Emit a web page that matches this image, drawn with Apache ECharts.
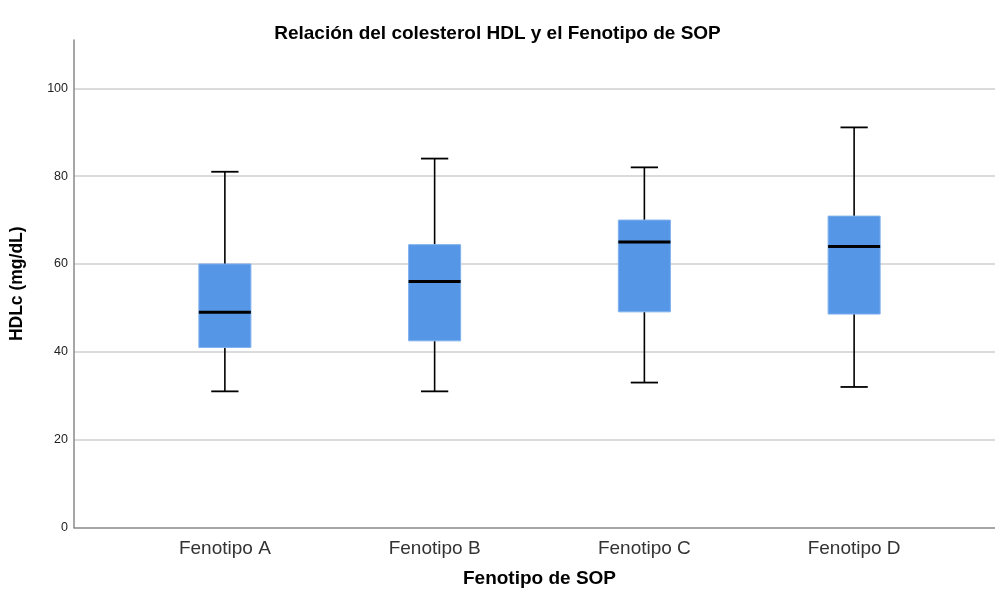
<!DOCTYPE html>
<html>
<head>
<meta charset="utf-8">
<script src="https://cdn.jsdelivr.net/npm/echarts@6/dist/echarts.min.js"></script>
<style>html,body{margin:0;padding:0;background:#fff}#c{width:995px;height:595px}</style>
</head>
<body>
<div id="c"></div>
<script>
var categories = ['Fenotipo A', 'Fenotipo B', 'Fenotipo C', 'Fenotipo D'];
var whiskerLow = [31, 31, 33, 32];
var q1 = [41, 42.5, 49.1, 48.6];
var median = [49, 56, 65, 64];
var q3 = [60, 64.4, 70, 70.9];
var whiskerHigh = [81, 84, 82, 91.1];
var yTicks = [0, 20, 40, 60, 80, 100];

var boxData = categories.map(function (c, i) {
  return [i, whiskerLow[i], q1[i], median[i], q3[i], whiskerHigh[i]];
});

var chart = echarts.init(document.getElementById('c'), null, {renderer: 'canvas'});
var FONT = 'Liberation Sans, Arial, sans-serif';

chart.setOption({
  backgroundColor: '#ffffff',
  animation: false,
  title: {
    text: 'Relación del colesterol HDL y el Fenotipo de SOP',
    left: 'center', top: 19,
    textStyle: {fontFamily: FONT, fontSize: 19, fontWeight: 'bold', color: '#000'}
  },
  grid: [
    {left: 120, right: 36, top: 40, bottom: 67.5},
    {left: 73, right: 0, top: 40, bottom: 67.5}
  ],
  xAxis: [
    {
      type: 'category', gridIndex: 0, data: categories,
      axisLine: {show: false}, axisTick: {show: false},
      axisLabel: {fontFamily: FONT, fontSize: 19, color: '#333', margin: 12},
      name: 'Fenotipo de SOP', nameLocation: 'middle', nameGap: 42,
      nameTextStyle: {fontFamily: FONT, fontSize: 19, fontWeight: 'bold', color: '#000'}
    },
    {
      type: 'value', gridIndex: 1, min: 0, max: 1, show: true,
      axisLine: {show: true, lineStyle: {color: '#888', width: 1.5}},
      axisTick: {show: false}, axisLabel: {show: false}, splitLine: {show: false}
    }
  ],
  yAxis: [
    {
      type: 'value', gridIndex: 0, min: 0, max: 111, interval: 20, show: false
    },
    {
      type: 'value', gridIndex: 1, min: 0, max: 111, interval: 20,
      axisLine: {show: true, lineStyle: {color: '#888', width: 1.5}},
      axisTick: {show: false},
      axisLabel: {fontFamily: FONT, fontSize: 12.5, color: '#222', margin: 6, showMaxLabel: false,
        formatter: function (v) { return yTicks.indexOf(v) >= 0 ? String(v) : ''; }},
      splitLine: {show: true, showMinLine: false, showMaxLine: false, lineStyle: {color: '#cfcfcf', width: 1.5}},
      name: 'HDLc (mg/dL)', nameLocation: 'middle', nameGap: 48, nameRotate: 90,
      nameTextStyle: {fontFamily: FONT, fontSize: 17.5, fontWeight: 'bold', color: '#000'}
    }
  ],
  series: [{
    type: 'custom',
    xAxisIndex: 0, yAxisIndex: 0,
    data: boxData,
    encode: {x: 0, y: [1, 2, 3, 4, 5]},
    renderItem: function (params, api) {
      var x = api.value(0);
      var pLow = api.coord([x, api.value(1)]);
      var pQ1 = api.coord([x, api.value(2)]);
      var pMed = api.coord([x, api.value(3)]);
      var pQ3 = api.coord([x, api.value(4)]);
      var pHigh = api.coord([x, api.value(5)]);
      var band = api.size([1, 0])[0];
      var bw = band * 0.248;
      var cw = band * 0.13;
      var cx = pMed[0];
      var line = {stroke: '#000', lineWidth: 1.6};
      return {
        type: 'group',
        children: [
          {type: 'line', shape: {x1: cx, y1: pHigh[1], x2: cx, y2: pQ3[1]}, style: line},
          {type: 'line', shape: {x1: cx, y1: pQ1[1], x2: cx, y2: pLow[1]}, style: line},
          {type: 'line', shape: {x1: cx - cw / 2, y1: pHigh[1], x2: cx + cw / 2, y2: pHigh[1]}, style: {stroke: '#000', lineWidth: 1.8}},
          {type: 'line', shape: {x1: cx - cw / 2, y1: pLow[1], x2: cx + cw / 2, y2: pLow[1]}, style: {stroke: '#000', lineWidth: 1.8}},
          {type: 'rect', shape: {x: cx - bw / 2, y: pQ3[1], width: bw, height: pQ1[1] - pQ3[1]},
            style: {fill: '#5596e6', stroke: '#7fb0ee', lineWidth: 1}},
          {type: 'line', shape: {x1: cx - bw / 2, y1: pMed[1], x2: cx + bw / 2, y2: pMed[1]}, style: {stroke: '#000', lineWidth: 3}}
        ]
      };
    }
  }]
});
</script>
</body>
</html>
